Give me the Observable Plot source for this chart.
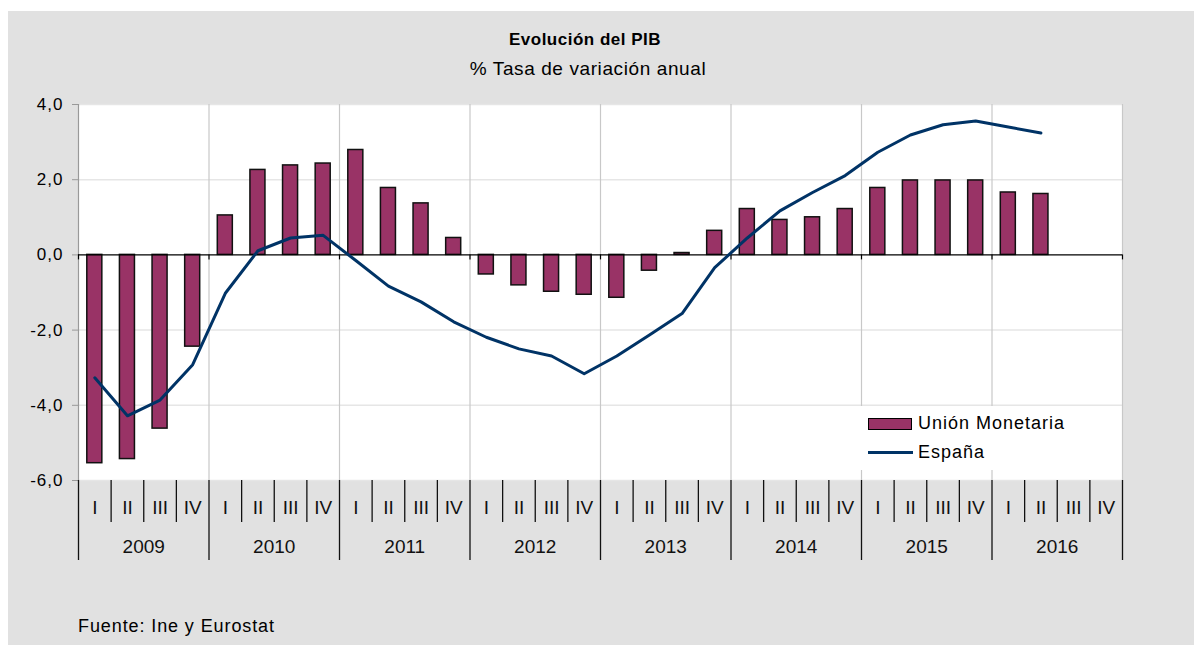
<!DOCTYPE html>
<html><head><meta charset="utf-8">
<script src="https://cdn.jsdelivr.net/npm/d3@7"></script>
<script src="https://cdn.jsdelivr.net/npm/@observablehq/plot@0.6"></script>
<style>
html,body{margin:0;padding:0;background:#fff;}
body{width:1194px;height:645px;position:relative;overflow:hidden;font-family:"Liberation Sans",Arial,sans-serif;color:#000;}
#bg{position:absolute;left:8px;top:11px;width:1186px;height:634px;background:#e1e1e1;}
.abs{position:absolute;white-space:nowrap;}
#title{left:285px;width:600px;text-align:center;top:31px;font-size:17px;line-height:17px;font-weight:bold;letter-spacing:0.5px;}
#subtitle{left:288px;width:600px;text-align:center;top:59px;font-size:19px;line-height:19px;letter-spacing:0.6px;}
#chart{left:0;top:90px;}
#cat{left:0;top:480px;}
#note{left:78px;top:617px;font-size:18px;line-height:18px;letter-spacing:0.9px;}
#legend{left:856px;top:406px;width:258px;height:64px;background:#fff;}
.lrow{position:absolute;left:12px;display:flex;align-items:center;font-size:18px;letter-spacing:1px;}
.sw{width:42px;height:10px;background:#993366;border:1.5px solid #000;margin-right:6px;}
.ln{width:45px;height:3px;background:#003366;margin-right:5px;}
#chart svg [aria-label="y-axis"] line,#chart svg [aria-label="y-axis tick"]{stroke:#999;}
</style>
</head><body>
<div id="bg"></div>
<div id="title" class="abs">Evolución del PIB</div>
<div id="subtitle" class="abs">% Tasa de variación anual</div>
<div id="chart" class="abs"></div>
<div id="cat" class="abs"></div>
<div id="legend" class="abs">
  <div class="lrow" style="top:7px;"><div class="sw"></div><span>Unión Monetaria</span></div>
  <div class="lrow" style="top:36px;"><div class="ln"></div><span>España</span></div>
</div>
<div id="note" class="abs">Fuente: Ine y Eurostat</div>
<script>
// ---- data ----
const years = ["2009","2010","2011","2012","2013","2014","2015","2016"];
const quarterLabels = ["I","II","III","IV"];
const union = [-5.54,-5.43,-4.62,-2.44, 1.05,2.26,2.38,2.43, 2.79,1.78,1.37,0.45,
               -0.52,-0.81,-0.98,-1.06, -1.14,-0.42,0.05,0.64, 1.22,0.93,1.00,1.22,
               1.78,1.98,1.98,1.98, 1.66,1.62];
const spain = [-3.27,-4.28,-3.86,-2.92, -1.02,0.11,0.45,0.52, -0.15,-0.83,-1.25,-1.78,
               -2.19,-2.50,-2.69,-3.16, -2.69,-2.13,-1.56,-0.34, 0.45,1.17,1.66,2.11,
               2.73,3.19,3.46,3.56, 3.40,3.24];
const yTicks = [-6,-4,-2,0,2,4];

// ---- derived tables ----
const quarters = years.flatMap(y => quarterLabels.map(q => ({year: y, q})));
quarters.forEach((d, i) => d.t = i);
const table = union.map((v, i) => ({t: i, um: v, es: spain[i]}));
const nQ = quarters.length;
const allBounds = d3.range(nQ + 1);
const yearBounds = allBounds.filter(b => b % quarterLabels.length === 0);
const quarterBounds = allBounds.filter(b => b % quarterLabels.length !== 0);
const fmt = v => v.toFixed(1).replace(".", ",");

const W = 1194, ML = 78, MR = 72;

const chart = Plot.plot({
  width: W, height: 400,
  marginTop: 14, marginBottom: 10, marginLeft: ML, marginRight: MR,
  style: {fontFamily: "'Liberation Sans', Arial, sans-serif", fontSize: "17px", background: "transparent", overflow: "visible", letterSpacing: "1px", color: "#000"},
  x: {domain: [0, nQ], axis: null},
  y: {domain: [-6, 4], ticks: yTicks, tickFormat: fmt, tickSize: 6, tickPadding: 9, label: null},
  marks: [
    Plot.frame({fill: "white", stroke: "none"}),
    Plot.ruleY(yTicks.filter(v => v !== 0), {stroke: "#e6e6e6", strokeWidth: 1.5}),
    Plot.ruleX(yearBounds.slice(1), {stroke: "#c8c8c8", strokeWidth: 1.2}),
    Plot.ruleX([0], {stroke: "#999", strokeWidth: 1.2}),
    Plot.rect(table, {x1: "t", x2: d => d.t + 1, y1: 0, y2: "um", fill: "#993366", stroke: "#111", strokeWidth: 1.5, insetLeft: 8.8, insetRight: 8.8}),
    Plot.ruleY([0], {stroke: "#000", strokeWidth: 1.3}),
    Plot.ruleX(yearBounds, {y1: 0, y2: 0, insetBottom: -5, stroke: "#000", strokeWidth: 1.2}),
    Plot.lineY(table, {x: d => d.t + 0.5, y: "es", stroke: "#003366", strokeWidth: 3})
  ]
});
document.getElementById("chart").appendChild(chart);

const cat = Plot.plot({
  width: W, height: 82,
  marginTop: 0, marginBottom: 2, marginLeft: ML, marginRight: MR,
  style: {fontFamily: "'Liberation Sans', Arial, sans-serif", fontSize: "19px", background: "transparent", overflow: "visible", color: "#000"},
  x: {domain: [0, nQ], axis: null},
  y: {domain: [0, 1], axis: null},
  marks: [
    Plot.ruleX(quarterBounds, {stroke: "#111", strokeWidth: 1.3, insetBottom: 38}),
    Plot.ruleX(yearBounds, {stroke: "#111", strokeWidth: 1.3}),
    Plot.text(quarters, {x: d => d.t + 0.5, text: "q", frameAnchor: "top", dy: 27, lineAnchor: "middle", fill: "#111"}),
    Plot.text(years, {x: (d, i) => i * quarterLabels.length + quarterLabels.length / 2, text: d => d, frameAnchor: "top", dy: 66, lineAnchor: "middle", fill: "#111", letterSpacing: "1.5px"})
  ]
});
document.getElementById("cat").appendChild(cat);
</script>
</body></html>
